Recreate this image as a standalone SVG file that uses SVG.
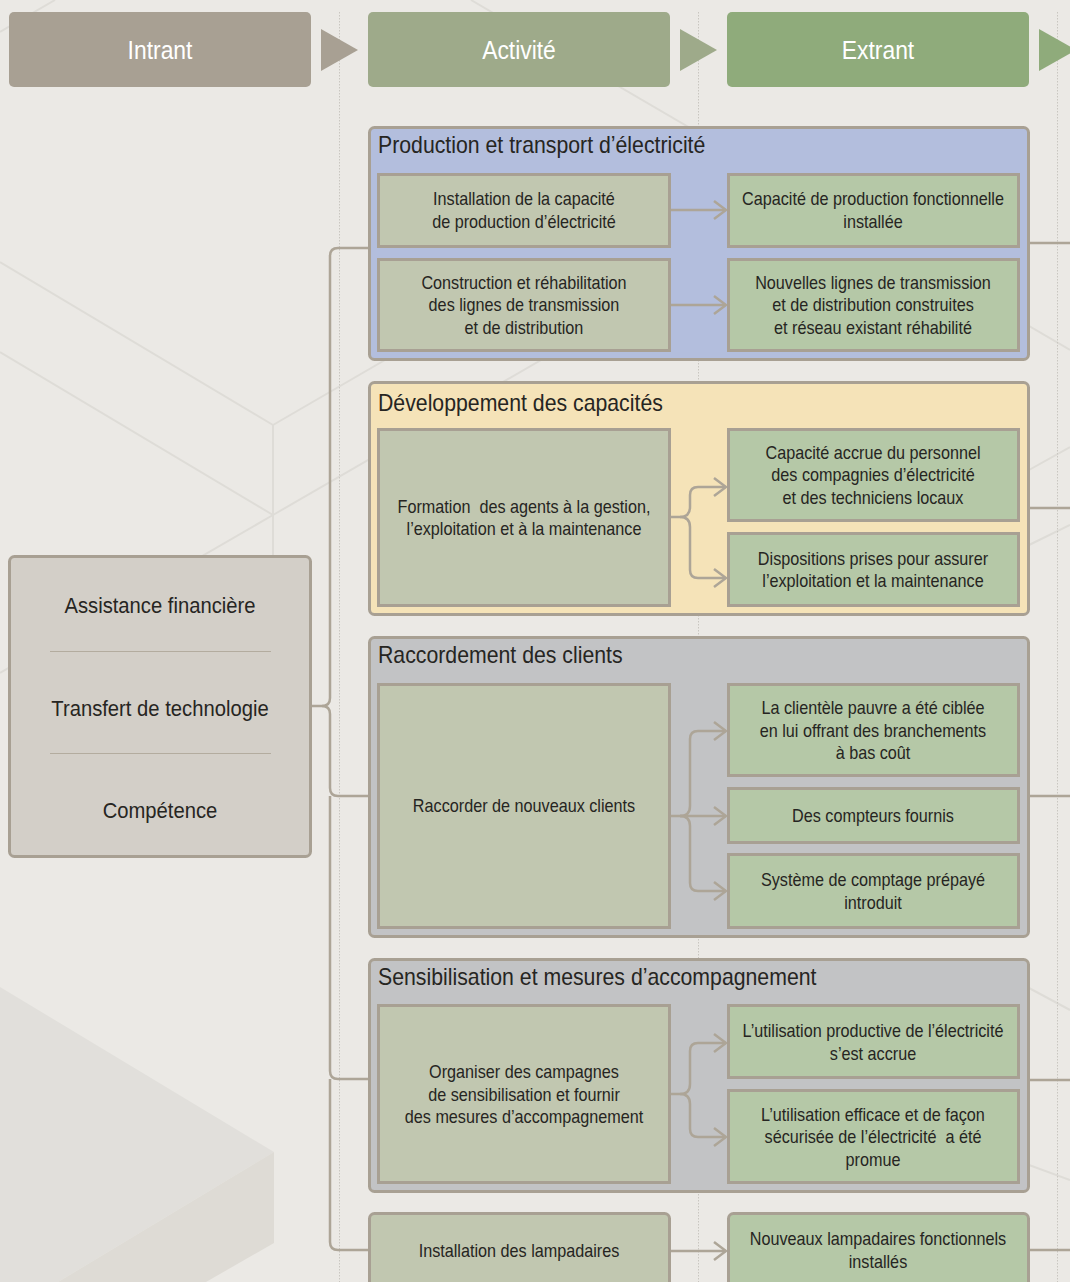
<svg xmlns="http://www.w3.org/2000/svg" width="1070" height="1282" viewBox="0 0 1070 1282">
<defs>
<style>
.t{font-family:"Liberation Sans",Arial,sans-serif;fill:#262522;text-anchor:middle;transform-box:fill-box;transform-origin:center;transform:scaleX(0.9);white-space:pre}
.s{font-size:18px}
.ttl{font-size:23px;text-anchor:start;transform-origin:left center;transform:scaleX(0.925)}
.lft{font-size:22px;transform:scaleX(0.92)}
.hd{font-size:26px;fill:#ffffff;transform:scaleX(0.88)}
.grp{stroke:#a8a093;stroke-width:3}
.act{fill:#c1c7b0;stroke:#a8a093;stroke-width:3}
.out{fill:#b5c8a7;stroke:#a8a093;stroke-width:3}
.cn{fill:none;stroke:#ada597;stroke-width:2.5}
.bg{fill:none;stroke:#dedcd7;stroke-width:2}
.dot{stroke:#c9c6c0;stroke-width:1;stroke-dasharray:1.5 1.5}
</style>
<marker id="ah" viewBox="0 0 14 20" refX="13" refY="10" markerWidth="14" markerHeight="20" orient="auto" markerUnits="userSpaceOnUse">
<path d="M1,1 L13,10 L1,19" fill="none" stroke="#ada597" stroke-width="2.5"/>
</marker>
</defs>
<rect x="0" y="0" width="1070" height="1282" fill="#ebe9e5"/>
<g id="background">
<polygon points="0,987 274,1152 58,1282 0,1282" fill="#e1dfdb"/>
<polygon points="274,1152 274,1243 206,1282 58,1282" fill="#dedbd5"/>
<line class="bg" x1="55" y1="0" x2="0" y2="32"/>
<line class="bg" x1="471" y1="0" x2="1070" y2="350"/>
<line class="bg" x1="0" y1="262" x2="273" y2="425"/>
<line class="bg" x1="0" y1="352" x2="273" y2="515"/>
<line class="bg" x1="273" y1="425" x2="273" y2="560"/>
<line class="bg" x1="273" y1="425" x2="600" y2="235"/>
<line class="bg" x1="273" y1="515" x2="700" y2="268"/>
<line class="bg" x1="273" y1="515" x2="0" y2="673"/>
<line class="bg" x1="1029" y1="470" x2="1070" y2="447"/>
<line class="bg" x1="1029" y1="545" x2="1070" y2="525"/>
<line class="bg" x1="1029" y1="1165" x2="1070" y2="1180"/>
<line class="bg" x1="1029" y1="988" x2="1070" y2="1010"/>
</g>
<g id="dividers">
<line class="dot" x1="339.5" y1="12" x2="339.5" y2="1282"/>
<line class="dot" x1="698.5" y1="12" x2="698.5" y2="1282"/>
<line class="dot" x1="1057.5" y1="12" x2="1057.5" y2="1282"/>
</g>
<g id="headers">
<g id="h-intrant">
<rect x="9" y="12" width="302" height="75" rx="5" fill="#a8a093"/>
<text class="t hd" x="160" y="59">Intrant</text>
<polygon points="321,29 358,50 321,71" fill="#a8a093"/>
</g>
<g id="h-activite">
<rect x="368" y="12" width="302" height="75" rx="5" fill="#9eaa8a"/>
<text class="t hd" x="519" y="59">Activité</text>
<polygon points="680,29 717,50 680,71" fill="#9eaa8a"/>
</g>
<g id="h-extrant">
<rect x="727" y="12" width="302" height="75" rx="5" fill="#8fab7b"/>
<text class="t hd" x="878" y="59">Extrant</text>
<polygon points="1039,29 1076,50 1039,71" fill="#8fab7b"/>
</g>
</g>
<g id="intrants">
<rect x="9.5" y="556.5" width="301" height="300" rx="5" fill="#d3cfc8" stroke="#a8a093" stroke-width="3"/>
<line x1="50" y1="651.5" x2="271" y2="651.5" stroke="#b3ac9f" stroke-width="1"/>
<line x1="50" y1="753.5" x2="271" y2="753.5" stroke="#b3ac9f" stroke-width="1"/>
<text class="t lft" x="160" y="613">Assistance financière</text>
<text class="t lft" x="160" y="716">Transfert de technologie</text>
<text class="t lft" x="160" y="818">Compétence</text>
</g>
<g id="group-production">
<rect class="grp" x="369.5" y="127.5" width="659" height="232" rx="5" fill="#b3bedd"/>
<text class="t ttl" x="378" y="153">Production et transport d’électricité</text>
<g id="act-installation">
<rect class="act" x="378.5" y="174.5" width="291" height="72"/>
<text class="t s" x="524" y="205">Installation de la capacité</text>
<text class="t s" x="524" y="228">de production d’électricité</text>
</g>
<g id="out-capacite">
<rect class="out" x="728.5" y="174.5" width="290" height="72"/>
<text class="t s" x="873" y="205">Capacité de production fonctionnelle</text>
<text class="t s" x="873" y="228">installée</text>
</g>
<g id="act-construction">
<rect class="act" x="378.5" y="259.5" width="291" height="91"/>
<text class="t s" x="524" y="289">Construction et réhabilitation</text>
<text class="t s" x="524" y="311">des lignes de transmission</text>
<text class="t s" x="524" y="334">et de distribution</text>
</g>
<g id="out-lignes">
<rect class="out" x="728.5" y="259.5" width="290" height="91"/>
<text class="t s" x="873" y="289">Nouvelles lignes de transmission</text>
<text class="t s" x="873" y="311">et de distribution construites</text>
<text class="t s" x="873" y="334">et réseau existant réhabilité</text>
</g>
</g>
<g id="group-capacites">
<rect class="grp" x="369.5" y="382.5" width="659" height="232" rx="5" fill="#f5e3b8"/>
<text class="t ttl" x="378" y="411">Développement des capacités</text>
<g id="act-formation">
<rect class="act" x="378.5" y="429.5" width="291" height="176"/>
<text class="t s" x="524" y="513">Formation  des agents à la gestion,</text>
<text class="t s" x="524" y="535">l’exploitation et à la maintenance</text>
</g>
<g id="out-personnel">
<rect class="out" x="728.5" y="429.5" width="290" height="91"/>
<text class="t s" x="873" y="459">Capacité accrue du personnel</text>
<text class="t s" x="873" y="481">des compagnies d’électricité</text>
<text class="t s" x="873" y="504">et des techniciens locaux</text>
</g>
<g id="out-dispositions">
<rect class="out" x="728.5" y="533.5" width="290" height="72"/>
<text class="t s" x="873" y="565">Dispositions prises pour assurer</text>
<text class="t s" x="873" y="587">l’exploitation et la maintenance</text>
</g>
</g>
<g id="group-raccordement">
<rect class="grp" x="369.5" y="637.5" width="659" height="299" rx="5" fill="#c2c3c5"/>
<text class="t ttl" x="378" y="663">Raccordement des clients</text>
<g id="act-raccorder">
<rect class="act" x="378.5" y="684.5" width="291" height="243"/>
<text class="t s" x="524" y="812">Raccorder de nouveaux clients</text>
</g>
<g id="out-clientele">
<rect class="out" x="728.5" y="684.5" width="290" height="91"/>
<text class="t s" x="873" y="714">La clientèle pauvre a été ciblée</text>
<text class="t s" x="873" y="737">en lui offrant des branchements</text>
<text class="t s" x="873" y="759">à bas coût</text>
</g>
<g id="out-compteurs">
<rect class="out" x="728.5" y="788.5" width="290" height="54"/>
<text class="t s" x="873" y="822">Des compteurs fournis</text>
</g>
<g id="out-prepaye">
<rect class="out" x="728.5" y="854.5" width="290" height="73"/>
<text class="t s" x="873" y="886">Système de comptage prépayé</text>
<text class="t s" x="873" y="909">introduit</text>
</g>
</g>
<g id="group-sensibilisation">
<rect class="grp" x="369.5" y="959.5" width="659" height="232" rx="5" fill="#c2c3c5"/>
<text class="t ttl" x="378" y="985">Sensibilisation et mesures d’accompagnement</text>
<g id="act-campagnes">
<rect class="act" x="378.5" y="1005.5" width="291" height="177"/>
<text class="t s" x="524" y="1078">Organiser des campagnes</text>
<text class="t s" x="524" y="1101">de sensibilisation et fournir</text>
<text class="t s" x="524" y="1123">des mesures d’accompagnement</text>
</g>
<g id="out-productive">
<rect class="out" x="728.5" y="1005.5" width="290" height="72"/>
<text class="t s" x="873" y="1037">L’utilisation productive de l’électricité</text>
<text class="t s" x="873" y="1060">s’est accrue</text>
</g>
<g id="out-efficace">
<rect class="out" x="728.5" y="1090.5" width="290" height="92"/>
<text class="t s" x="873" y="1121">L’utilisation efficace et de façon</text>
<text class="t s" x="873" y="1143">sécurisée de l’électricité  a été</text>
<text class="t s" x="873" y="1166">promue</text>
</g>
</g>
<g id="act-lampadaires">
<rect class="act" x="369.5" y="1213.5" width="300" height="90" rx="5"/>
<text class="t s" x="519" y="1257">Installation des lampadaires</text>
</g>
<g id="out-lampadaires">
<rect class="out" x="728.5" y="1213.5" width="300" height="90" rx="5"/>
<text class="t s" x="878" y="1245">Nouveaux lampadaires fonctionnels</text>
<text class="t s" x="878" y="1268">installés</text>
</g>
<g id="connectors">
<path class="cn" d="M368,248 H338 Q330,248 330,256 V698 Q330,706 322,706 H312"/>
<path class="cn" d="M322,706 Q330,706 330,714 V788 Q330,796 338,796 H368"/>
<path class="cn" d="M330,796 V1071 Q330,1079 338,1079 H368"/>
<path class="cn" d="M330,1079 V1242 Q330,1250 338,1250 H368"/>
<path class="cn" d="M671,210 H726" marker-end="url(#ah)"/>
<path class="cn" d="M671,305 H726" marker-end="url(#ah)"/>
<path class="cn" d="M671,517 H680 Q690,517 690,507 V495 Q690,487 698,487 H726" marker-end="url(#ah)"/>
<path class="cn" d="M680,517 Q690,517 690,527 V570 Q690,578 698,578 H726" marker-end="url(#ah)"/>
<path class="cn" d="M671,816 H726" marker-end="url(#ah)"/>
<path class="cn" d="M680,816 Q690,816 690,806 V739 Q690,731 698,731 H726" marker-end="url(#ah)"/>
<path class="cn" d="M680,816 Q690,816 690,826 V883 Q690,891 698,891 H726" marker-end="url(#ah)"/>
<path class="cn" d="M671,1094 H680 Q690,1094 690,1084 V1051 Q690,1043 698,1043 H726" marker-end="url(#ah)"/>
<path class="cn" d="M680,1094 Q690,1094 690,1104 V1129 Q690,1137 698,1137 H726" marker-end="url(#ah)"/>
<path class="cn" d="M671,1251 H726" marker-end="url(#ah)"/>
<path class="cn" d="M1030,243 H1070"/>
<path class="cn" d="M1030,508 H1070"/>
<path class="cn" d="M1030,796 H1070"/>
<path class="cn" d="M1030,1080 H1070"/>
<path class="cn" d="M1030,1250 H1070"/>
</g>
</svg>
